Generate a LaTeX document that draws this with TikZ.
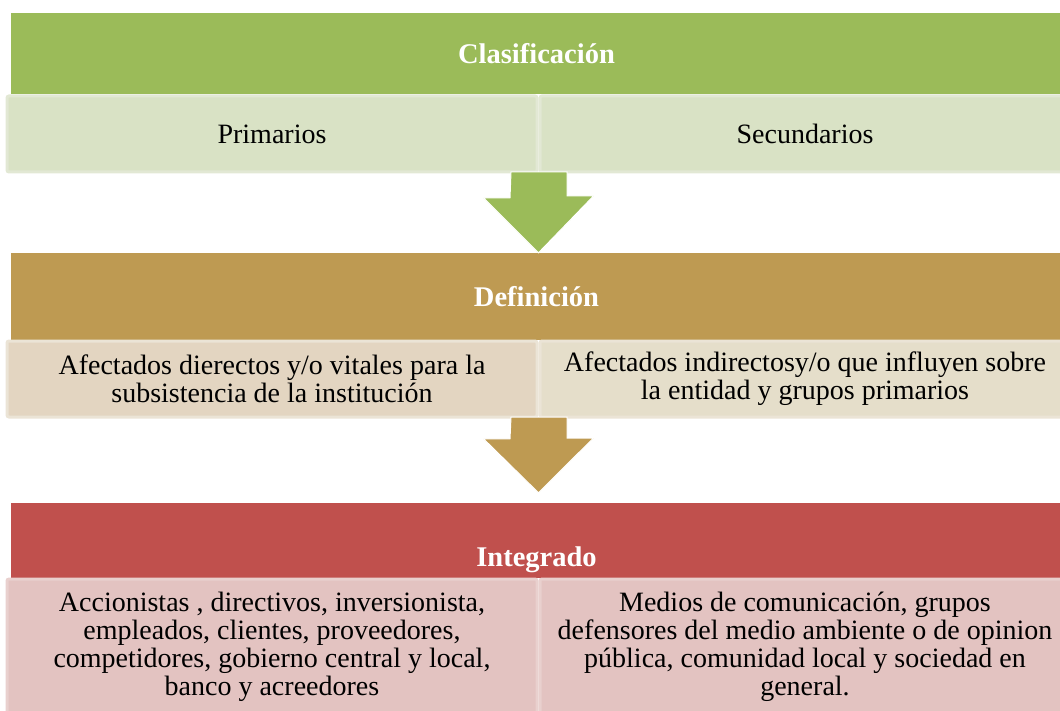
\documentclass[tikz,border=0pt]{standalone}
\usepackage{fontspec}
\setmainfont{Liberation Serif}
\usetikzlibrary{positioning}
\definecolor{hdrgreen}{HTML}{9BBB59}
\definecolor{subgreen}{HTML}{D9E2C5}
\definecolor{rimgreen}{HTML}{E2E8D4}
\definecolor{hdrbrown}{HTML}{BE9A52}
\definecolor{subbrownl}{HTML}{E3D5C1}
\definecolor{subbrownr}{HTML}{E5DECA}
\definecolor{rimbrown}{HTML}{EBE4D6}
\definecolor{hdrred}{HTML}{C0504D}
\definecolor{subred}{HTML}{E3C3C1}
\definecolor{rimred}{HTML}{E9D0CE}
\tikzstyle{header}=[rectangle, inner sep=0pt, minimum width=1051pt, text=white,
font=\fontsize{28.5}{28}\selectfont\bfseries]
\tikzstyle{subbox}=[rectangle, inner sep=0pt, minimum width=530pt, line width=3pt,
rounded corners=2pt, align=center, font=\fontsize{28}{28}\selectfont]
\tikzstyle{downarrow}=[draw=white, line width=1pt]

\begin{document}
\begin{tikzpicture}[x=1pt,y=-1pt]
\useasboundingbox (0,0) rectangle (1060,711);

\node[header, fill=hdrgreen, minimum height=81pt](hdrA)at (536.5,53.5){Clasificaci\'on};
\node[subbox, fill=subgreen, draw=rimgreen, minimum height=76pt](priA)at (272,134){Primarios};
\node[subbox, fill=subgreen, draw=rimgreen, minimum height=76pt, right=0pt of priA](secA){Secundarios};

\node[header, fill=hdrbrown, minimum height=87pt](hdrB)at (536.5,296.5){Definici\'on};
\node[subbox, fill=subbrownl, draw=rimbrown, minimum height=76pt](priB)at (272,379)
{Afectados dierectos y/o vitales para la\\subsistencia de la instituci\'on};
\node[subbox, fill=subbrownr, draw=rimbrown, minimum height=76pt, right=0pt of priB](secB)
{Afectados indirectosy/o que influyen sobre\\la entidad y grupos primarios};

\node[header, fill=hdrred, minimum height=75pt, text height=58pt](hdrC)at (536.5,540.5){Integrado};
\node[subbox, fill=subred, draw=rimred, minimum height=136pt](priC)at (272,647)
{Accionistas , directivos, inversionista,\\empleados, clientes, proveedores,\\competidores, gobierno central y local,\\banco y acreedores};
\node[subbox, fill=subred, draw=rimred, minimum height=136pt, right=0pt of priC](secC)
{Medios de comunicaci\'on, grupos\\defensores del medio ambiente o de opinion\\p\'ublica, comunidad local y sociedad en\\general.};

% arrows between the rows
\filldraw[downarrow, fill=hdrgreen] ([xshift=-27.5pt,yshift=1.5pt]priA.south east) -- ++(56,0) -- ++(0,24)
 -- ++(26.5,0) -- (hdrB.north -| priA.south east) -- ++(-55,-55) -- ++(26.5,0) -- cycle;
\filldraw[downarrow, fill=hdrbrown] ([xshift=-27.5pt,yshift=1.5pt]priB.south east) -- ++(56,0) -- ++(0,21)
 -- ++(26.5,0) -- ([yshift=10pt]hdrC.north -| priB.south east) -- ++(-55,-54) -- ++(26.5,0) -- cycle;
\end{tikzpicture}
\end{document}
